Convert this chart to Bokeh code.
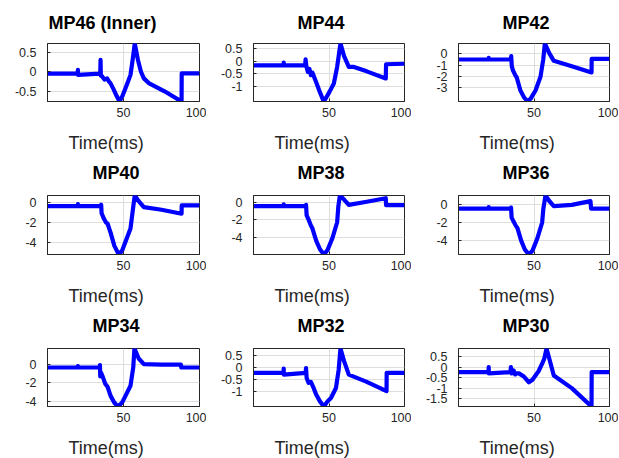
from bokeh.plotting import figure
from bokeh.layouts import gridplot
from bokeh.models import Range1d, FixedTicker, LinearAxis, Title
from bokeh.embed import file_html
from bokeh.resources import INLINE

# ---------------- data ----------------
titles = ["MP46 (Inner)", "MP44", "MP42", "MP40", "MP38", "MP36", "MP34", "MP32", "MP30"]
x_label = "Time(ms)"
x_ticks = [50, 100]
x_limits = [0, 100]

mp46_t = [0, 19.9, 20, 20.1, 34.7, 34.9, 35.1, 36, 37.5, 39.2, 40.5, 41.4, 43.5, 45.5, 47.4,
          49.3, 51.3, 53, 54.6, 56, 57.4, 59.5, 61.5, 63.4, 66.6, 77, 88.2, 88.3, 100]
mp46_v = [-0.05, -0.05, 0.05, -0.08, -0.05, 0.3, -0.1, -0.12, -0.2, -0.17, -0.25, -0.29, -0.45, -0.62, -0.76,
          -0.62, -0.42, -0.25, -0.08, 0.3, 0.72, 0.3, 0.0, -0.17, -0.29, -0.5, -0.76, -0.04, -0.04]
mp46_ylim = [-0.76, 0.72]
mp46_yticks = [-0.5, 0, 0.5]

mp44_t = [0, 19.9, 20, 20.1, 34.2, 34.5, 35, 36, 37, 38, 39, 41, 43.5, 46.5, 48, 50.3, 53.2, 55.4, 57.6,
          60, 63.1, 66, 75, 87.6, 87.8, 100]
mp44_v = [-0.16, -0.16, -0.05, -0.16, -0.16, 0.07, -0.2, -0.42, -0.3, -0.55, -0.45, -0.75, -1.15, -1.59, -1.45,
          -1.21, -0.88, -0.22, 0.70, 0.2, -0.22, -0.22, -0.4, -0.68, -0.12, -0.1]
mp44_ylim = [-1.59, 0.70]
mp44_yticks = [-1, -0.5, 0, 0.5]

mp42_t = [0, 19.9, 20, 20.1, 34.6, 34.9, 35.3, 36, 37.5, 38.5, 41, 43.5, 45.9, 48, 51, 54.3, 56.1, 57.2,
          60, 63.1, 75, 88.1, 88.2, 100]
mp42_v = [-0.5, -0.5, -0.35, -0.5, -0.5, -0.2, -1.1, -1.45, -1.9, -2.1, -3.3, -3.95, -4.3, -4.0, -3.3, -2.06,
          -0.52, 0.95, 0.1, -0.62, -1.1, -1.67, -0.45, -0.45]
mp42_ylim = [-4.3, 0.95]
mp42_yticks = [-3, -2, -1, 0, 1]

mp40_t = [0, 19.9, 20, 20.1, 35.0, 35.3, 35.6, 37, 38.5, 39.5, 41.5, 44, 46.9, 49, 51.3, 54.6, 56.4, 57.4,
          60, 63.4, 75, 88.2, 88.3, 100]
mp40_v = [-0.39, -0.39, -0.2, -0.39, -0.39, -0.25, -1.1, -1.6, -2.0, -2.1, -3.0, -4.3, -5.15, -4.8, -3.9, -2.6,
          -0.49, 0.65, 0.1, -0.49, -0.75, -1.14, -0.33, -0.33]
mp40_ylim = [-5.15, 0.65]
mp40_yticks = [-4, -2, 0]

mp38_t = [0, 19.9, 20, 20.1, 34.5, 34.8, 35.2, 36.5, 38, 39, 41.5, 44, 46.6, 49, 52.1, 55.4, 56.2, 57.2,
          60, 63.1, 75, 87.6, 87.8, 100]
mp38_v = [-0.46, -0.46, -0.25, -0.46, -0.46, -0.3, -1.5, -2.0, -2.68, -3.0, -4.4, -5.4, -6.0, -5.5, -4.2, -2.3,
          -0.46, 0.77, 0.3, -0.3, 0.05, 0.46, -0.33, -0.33]
mp38_ylim = [-6.0, 0.77]
mp38_yticks = [-4, -2, 0]

mp36_t = [0, 19.9, 20, 20.1, 34.5, 34.8, 35.2, 36.5, 38, 39, 41.5, 44, 46.6, 49, 52.1, 55.4, 56.2, 57.6,
          60, 63.1, 75, 87.4, 87.8, 100]
mp36_v = [-0.47, -0.47, -0.3, -0.47, -0.47, -0.35, -1.46, -1.9, -2.37, -2.6, -4.0, -5.0, -5.53, -5.1, -3.8, -2.0,
          -0.47, 0.98, 0.4, -0.19, -0.05, 0.36, -0.47, -0.47]
mp36_ylim = [-5.53, 0.98]
mp36_yticks = [-4, -2, 0]

mp34_t = [0, 19.9, 20, 20.1, 34.3, 34.5, 34.7, 35.2, 36.5, 38, 39.5, 41.5, 44, 46.3, 49, 51.3, 54.6, 56.4,
          57.2, 60, 63.4, 75, 87.8, 88, 100]
mp34_v = [-0.36, -0.36, -0.2, -0.36, -0.36, -0.1, -1.3, -0.9, -1.4, -2.1, -2.4, -3.37, -4.1, -4.5, -4.1, -3.37,
          -2.3, -0.36, 1.66, 0.6, 0.0, -0.05, -0.05, -0.36, -0.36]
mp34_ylim = [-4.5, 1.66]
mp34_yticks = [-4, -2, 0]

mp32_t = [0, 19.9, 20, 20.1, 34.5, 34.8, 35.2, 36.5, 38, 39.5, 41.5, 44, 46.6, 49, 51.3, 54.6, 56.4, 57.6,
          60, 63.1, 75, 88.1, 88.2, 100]
mp32_v = [-0.23, -0.23, -0.05, -0.3, -0.23, -0.03, -0.44, -0.64, -0.6, -0.8, -1.12, -1.4, -1.61, -1.4, -1.26,
          -0.85, -0.1, 0.77, 0.25, -0.3, -0.6, -0.98, -0.23, -0.23]
mp32_ylim = [-1.61, 0.77]
mp32_yticks = [-1, -0.5, 0, 0.5]

mp30_t = [0, 19.9, 20, 20.1, 34.4, 34.7, 35.2, 36.5, 37.5, 38.5, 40, 43.3, 46.6, 49, 51, 53, 55.4, 56.8,
          58.3, 60.5, 63.1, 75, 88.1, 88.2, 100]
mp30_v = [-0.24, -0.24, 0.0, -0.3, -0.24, 0.0, -0.3, -0.16, -0.35, -0.3, -0.3, -0.45, -0.72, -0.6, -0.4, -0.2,
          0.16, 0.4, 0.88, 0.3, -0.4, -1.0, -1.87, -0.24, -0.24]
mp30_ylim = [-1.87, 0.88]
mp30_yticks = [-1.5, -1, -0.5, 0, 0.5]

series_t = [mp46_t, mp44_t, mp42_t, mp40_t, mp38_t, mp36_t, mp34_t, mp32_t, mp30_t]
series_v = [mp46_v, mp44_v, mp42_v, mp40_v, mp38_v, mp36_v, mp34_v, mp32_v, mp30_v]
ylims = [mp46_ylim, mp44_ylim, mp42_ylim, mp40_ylim, mp38_ylim, mp36_ylim, mp34_ylim, mp32_ylim, mp30_ylim]
yticks = [mp46_yticks, mp44_yticks, mp42_yticks, mp40_yticks, mp38_yticks, mp36_yticks, mp34_yticks,
          mp32_yticks, mp30_yticks]

# ---------------- layout / style ----------------
col_left = [47, 47, 47]
col_frame = [152, 151, 151]
col_right = [7, 7, 9]
row_top = [43, 35, 36]
row_frame = [58, 59, 58]
row_bottom = [59, 58, 52]
title_gap = [11, 13, 13]
title_offset = [1, 44, 44, 45, 44, 44, 45, 44, 44]
xlabel_gap = 11
xlabel_offset = 21

FONT = "Liberation Sans"
INK = "#262626"

def fmt_ticks(ticks):
    out = {}
    for t in ticks:
        out[t] = str(int(t)) if float(t).is_integer() else ("%g" % t)
    return out

def spacer(size):
    # an invisible axis used only to reserve vertical space
    return LinearAxis(ticker=FixedTicker(ticks=[50]), major_tick_out=size, major_tick_in=0,
                      axis_line_color=None, major_tick_line_color=None, minor_tick_line_color=None,
                      major_label_text_font_size="0px", major_label_standoff=0,
                      major_label_overrides={50: ""})

rows = []
for i in range(9):
    r, c = divmod(i, 3)
    w = col_left[c] + col_frame[c] + col_right[c]
    h = row_top[r] + row_frame[r] + row_bottom[r]
    p = figure(width=w, height=h, output_backend="svg", toolbar_location=None,
               x_range=Range1d(*x_limits), y_range=Range1d(*ylims[i]),
               min_border_left=col_left[c], min_border_right=col_right[c],
               min_border_top=row_top[r], min_border_bottom=row_bottom[r],
               background_fill_color="white", border_fill_color="white")
    p.line(series_t[i], series_v[i], line_color="#0000ff", line_width=4.2, line_join="round")

    p.outline_line_color = INK
    p.outline_line_width = 1
    for ax in (p.xaxis[0], p.yaxis[0]):
        ax.axis_line_color = INK
        ax.major_tick_in = 3
        ax.major_tick_out = 0
        ax.major_tick_line_color = INK
        ax.minor_tick_line_color = None
        ax.major_label_text_font = FONT
        ax.major_label_text_font_size = "12.5px"
        ax.major_label_text_color = INK
    p.xaxis[0].ticker = FixedTicker(ticks=x_ticks)
    p.yaxis[0].ticker = FixedTicker(ticks=yticks[i])
    p.yaxis[0].major_label_overrides = fmt_ticks(yticks[i])
    p.xaxis[0].major_label_standoff = 6
    p.yaxis[0].major_label_standoff = 11

    p.xgrid.ticker = FixedTicker(ticks=x_ticks)
    p.ygrid.ticker = FixedTicker(ticks=yticks[i])
    p.xgrid.grid_line_color = "#dedede"
    p.ygrid.grid_line_color = "#dedede"

    p.add_layout(spacer(title_gap[r]), "above")
    p.title.text = titles[i]
    p.title.align = "left"
    p.title.offset = title_offset[i]
    p.title.standoff = 0
    p.title.text_font = FONT
    p.title.text_font_style = "bold"
    p.title.text_font_size = "18px"
    p.title.text_color = "black"

    p.add_layout(spacer(xlabel_gap), "below")
    p.add_layout(Title(text=x_label, align="left", offset=xlabel_offset, standoff=0,
                       text_font=FONT, text_font_style="normal", text_font_size="18px",
                       text_color=INK), "below")
    if c == 0:
        rows.append([])
    rows[-1].append(p)

grid = gridplot(rows, toolbar_location=None)
open("out.html", "w").write(file_html(grid, INLINE))
